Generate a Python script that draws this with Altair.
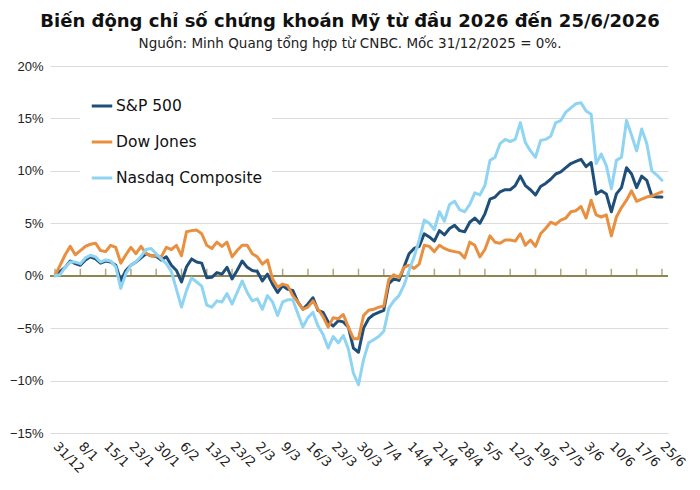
import json
import altair as alt
import pandas as pd

tick_labels = ["31/12", "8/1", "15/1", "23/1", "30/1", "6/2", "13/2", "23/2", "2/3", "9/3",
               "16/3", "23/3", "30/3", "7/4", "14/4", "21/4", "28/4", "5/5", "12/5", "19/5",
               "27/5", "3/6", "10/6", "17/6", "25/6"]

series_names = ["S&P 500", "Dow Jones", "Nasdaq Composite"]
series_colors = ["#1f4e79", "#e8903f", "#8fd4f2"]

sp500 = [0.0, 0.4, 0.8, 1.4, 1.15, 1.0, 1.5, 1.8, 1.6, 1.2,
         1.4, 1.3, 1.0, -0.5, 0.5, 1.0, 1.3, 1.7, 2.1, 1.9,
         1.85, 1.5, 1.8, 1.0, 0.5, -0.6, 0.85, 1.6, 1.3, 1.2,
         -0.2, -0.15, 0.3, 0.15, 0.8, -0.3, 0.5, 1.4, 0.8, 0.5,
         0.4, -0.5, 0.15, -0.8, -1.6, -0.95, -1.3, -1.4, -2.5, -3.2,
         -2.7, -2.1, -3.3, -3.5, -4.4, -4.8, -4.3, -4.4, -4.9, -6.9,
         -7.3, -5.0, -4.1, -3.7, -3.5, -3.3, -0.75, -0.3, -0.45, 0.84,
         2.1, 2.6, 2.8, 4.0, 3.7, 3.3, 4.3, 3.9, 4.5, 4.8,
         4.3, 4.2, 5.1, 5.5, 5.0, 5.9, 7.3, 7.5, 8.0, 8.2,
         8.2, 8.6, 9.5, 8.6, 8.2, 7.7, 8.5, 8.8, 9.2, 9.7,
         9.9, 10.3, 10.7, 10.9, 11.1, 10.4, 10.8, 7.8, 8.1, 7.8,
         6.1, 7.8, 8.4, 10.3, 9.7, 8.4, 9.5, 9.1, 7.6, 7.5,
         7.5]

dow = [0.0, 1.0, 2.0, 2.8, 2.0, 2.4, 2.8, 3.0, 3.1, 2.4,
       2.3, 2.9, 2.7, 1.2, 2.0, 2.7, 2.1, 2.8, 2.1, 1.9,
       1.9, 1.8, 2.7, 2.5, 2.9, 1.9, 4.2, 4.3, 4.35, 4.0,
       2.9, 2.6, 3.2, 2.8, 3.2, 1.8, 2.4, 2.9, 2.9, 2.1,
       1.8, 1.1, 1.5, -0.3, -1.1, -0.8, -0.95, -1.9, -2.5, -3.2,
       -3.0, -2.4, -3.2, -3.9, -4.9, -4.0, -4.1, -3.7, -4.9, -6.0,
       -6.0, -3.8, -3.3, -3.2, -3.0, -2.9, -0.35, 0.1, -0.2, 0.8,
       1.0, 0.7, 1.1, 2.9, 2.8, 2.3, 2.9, 2.6, 2.4, 2.3,
       2.2, 1.7, 3.2, 2.9, 1.8, 2.5, 3.8, 3.2, 3.1, 3.4,
       3.4, 3.3, 4.0, 2.9, 3.4, 2.8, 4.0, 4.5, 5.1, 4.9,
       5.3, 5.5, 6.1, 6.2, 6.6, 5.5, 7.2, 5.8, 5.6, 5.8,
       3.8, 5.6, 6.5, 7.2, 8.1, 7.1, 7.3, 7.5, 7.6, 7.8,
       8.0]

nasdaq = [0.0, 0.1, 0.8, 1.3, 1.3, 1.15, 1.7, 1.95, 1.8, 1.3,
          1.5, 1.4, 0.85, -1.2, 0.2, 1.0, 1.3, 1.85, 2.5, 2.6,
          2.1, 1.6, 1.15, 0.4, -1.3, -3.0, -1.4, -0.2, -0.6, -1.0,
          -2.8, -3.0, -2.4, -2.5, -1.7, -2.7, -1.6, -0.5, -1.6, -2.4,
          -2.2, -3.2, -1.9, -2.5, -3.8, -2.5, -2.3, -2.3, -3.6, -4.9,
          -4.0, -3.5, -4.8, -5.6, -6.9, -5.8, -6.4, -5.7, -7.0, -9.3,
          -10.4, -8.0, -6.4, -6.1, -5.8, -5.3, -3.1, -2.4, -1.9, -0.9,
          0.5, 1.8, 3.4, 5.3, 5.0, 4.4, 6.1, 5.2, 6.8, 7.1,
          6.3, 6.1, 6.8, 7.9, 7.7, 8.6, 11.0, 11.3, 12.6, 13.0,
          12.8, 13.0, 14.6, 12.7, 11.9, 11.3, 12.9, 13.0, 13.3, 14.6,
          14.8, 15.6, 16.0, 16.4, 16.5, 15.7, 15.4, 10.7, 11.6, 10.5,
          8.3, 11.0, 11.3, 14.8, 13.4, 11.9, 14.0, 12.6, 10.0, 9.6,
          9.1]

rows = []
for name, vals in zip(series_names, [sp500, dow, nasdaq]):
    for i, v in enumerate(vals):
        rows.append({"idx": i, "value": v, "series": name})
df = pd.DataFrame(rows)

step = 5
tick_values = [k * step for k in range(len(tick_labels))]
tick_df = pd.DataFrame({"idx": tick_values})
n_last = len(sp500) - 1

FONT = "DejaVu Sans"
label_expr = json.dumps(tick_labels) + "[round(datum.value/5)]"

xscale = alt.Scale(domain=[-1, n_last + 1.2], nice=False, zero=False)
yscale = alt.Scale(domain=[-15, 20], nice=False)

x_axis = alt.Axis(values=tick_values, labelExpr=label_expr, labelAngle=45,
                  labelAlign="left", labelBaseline="middle", labelPadding=11,
                  labelOverlap=False, labelBound=False,
                  labelFontSize=13, labelFont=FONT, labelColor="#222",
                  ticks=False, domain=False, grid=False, title=None)

y_axis = alt.Axis(values=[-15, -10, -5, 0, 5, 10, 15, 20],
                  labelExpr="format(datum.value, 'd') + '%'",
                  labelFontSize=13, labelFont="Liberation Sans", labelColor="#222", labelPadding=7,
                  ticks=False, domain=False, grid=True, gridColor="#dcdcdc",
                  gridWidth=1, title=None)

lines = alt.Chart(df).mark_line(strokeWidth=3, strokeJoin="round", strokeCap="round").encode(
    x=alt.X("idx:Q", scale=xscale, axis=x_axis),
    y=alt.Y("value:Q", scale=yscale, axis=y_axis),
    color=alt.Color("series:N",
                    scale=alt.Scale(domain=series_names, range=series_colors),
                    legend=alt.Legend(title=None, orient="none", legendX=30, legendY=18,
                                      fillColor="white", padding=10,
                                      symbolType="stroke", symbolStrokeWidth=3, symbolSize=420,
                                      labelFontSize=15.5, labelFont=FONT, labelColor="#111",
                                      labelOffset=2, rowPadding=15)),
)

zero_line = alt.Chart(tick_df).mark_rule(color="#8f8350", strokeWidth=1.5).encode(
    y=alt.datum(0, scale=yscale, axis=y_axis),
)

zero_ticks = alt.Chart(tick_df).mark_tick(color="#8f8350", orient="vertical", size=7,
                                          thickness=1.5, yOffset=-3.5).encode(
    x=alt.X("idx:Q", scale=xscale, axis=x_axis),
    y=alt.datum(0, scale=yscale, axis=y_axis),
)

chart = alt.layer(zero_line, zero_ticks, lines).properties(
    width=618, height=367,
    autosize=alt.AutoSizeParams(type="none"),
    padding={"left": 42, "top": 58, "right": 24, "bottom": 50},
    title=alt.TitleParams(
        text="Biến động chỉ số chứng khoán Mỹ từ đầu 2026 đến 25/6/2026",
        subtitle="Nguồn: Minh Quang tổng hợp từ CNBC. Mốc 31/12/2025 = 0%.",
        font=FONT, fontSize=18, fontWeight="bold", color="#111",
        subtitleFont=FONT, subtitleFontSize=13.5, subtitleColor="#222",
        subtitlePadding=6, anchor="middle", dx=-9, offset=10,
    ),
).configure_view(stroke=None)

chart.save("out.html", embed_options={"renderer": "svg", "actions": False})
